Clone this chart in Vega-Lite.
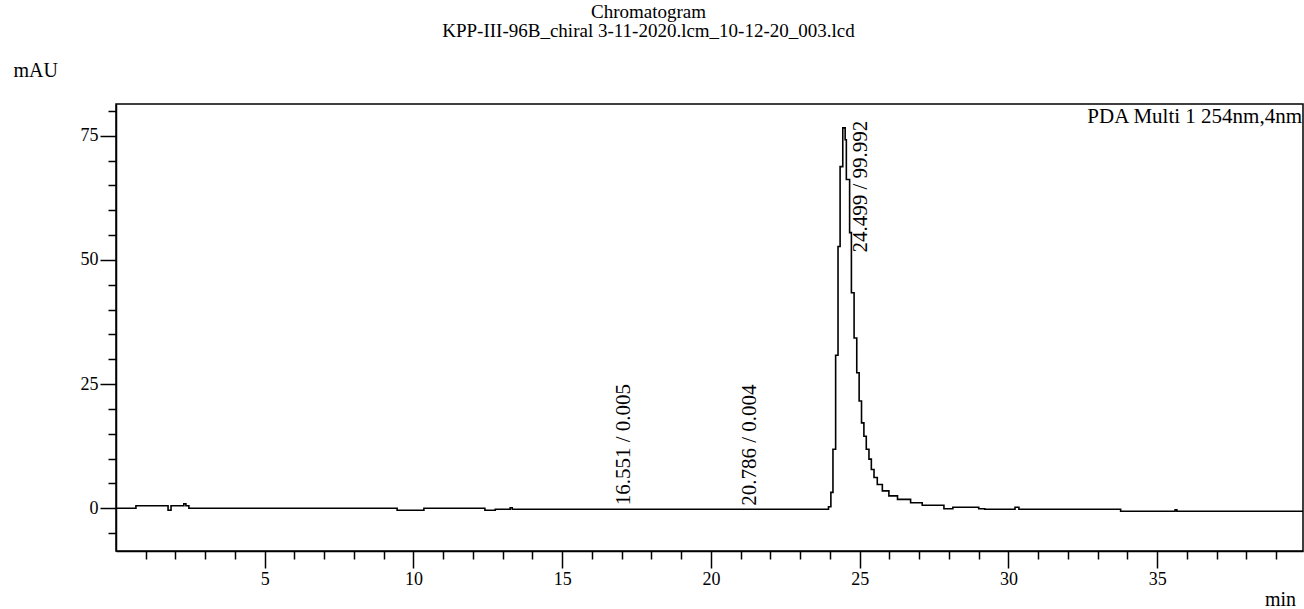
{
  "$schema": "https://vega.github.io/schema/vega-lite/v6.json",
  "autosize": "none",
  "width": 1187,
  "height": 447,
  "padding": {"left": 116, "top": 104, "right": 1, "bottom": 58},
  "background": "white",
  "config": {
    "font": "Liberation Serif",
    "view": {"stroke": "black", "strokeWidth": 1.5},
    "axis": {
      "grid": false,
      "domainColor": "black",
      "domainWidth": 1.5,
      "tickColor": "black",
      "tickWidth": 1.5,
      "labelColor": "black",
      "labelFont": "Liberation Serif",
      "labelFontSize": 18,
      "titleFont": "Liberation Serif",
      "titleFontSize": 20,
      "titleFontWeight": "normal",
      "titleColor": "black"
    }
  },
  "title": {
    "text": ["Chromatogram", "KPP-III-96B_chiral 3-11-2020.lcm_10-12-20_003.lcd"],
    "anchor": "middle",
    "frame": "group",
    "dx": -61,
    "offset": 19,
    "font": "Liberation Serif",
    "fontSize": 19,
    "fontWeight": "normal",
    "lineHeight": 19,
    "color": "black"
  },
  "datasets": {
    "trace": [
      {"t": 0, "v": 0},
      {"t": 0.67, "v": 0.5},
      {"t": 1.75, "v": -0.4},
      {"t": 1.85, "v": 0.5},
      {"t": 2.28, "v": 0.9},
      {"t": 2.35, "v": 0.5},
      {"t": 2.45, "v": 0},
      {"t": 9.45, "v": -0.4},
      {"t": 10.35, "v": 0},
      {"t": 12.4, "v": -0.4},
      {"t": 12.75, "v": -0.2},
      {"t": 13.25, "v": 0.1},
      {"t": 13.32, "v": -0.2},
      {"t": 23.95, "v": 0.3},
      {"t": 24.03, "v": 3.2},
      {"t": 24.1, "v": 11.9},
      {"t": 24.19, "v": 30.8},
      {"t": 24.27, "v": 52.7},
      {"t": 24.34, "v": 68.8},
      {"t": 24.43, "v": 76.6},
      {"t": 24.51, "v": 74.2},
      {"t": 24.55, "v": 66.2},
      {"t": 24.66, "v": 55.5},
      {"t": 24.72, "v": 43.4},
      {"t": 24.81, "v": 34.3},
      {"t": 24.9, "v": 27.3},
      {"t": 24.98, "v": 21.6},
      {"t": 25.06, "v": 17.2},
      {"t": 25.14, "v": 14.5},
      {"t": 25.22, "v": 11.9},
      {"t": 25.31, "v": 9.9},
      {"t": 25.39, "v": 7.8},
      {"t": 25.48, "v": 6.2},
      {"t": 25.59, "v": 4.8},
      {"t": 25.76, "v": 3.5},
      {"t": 25.98, "v": 2.5},
      {"t": 26.27, "v": 1.8},
      {"t": 26.71, "v": 1.1},
      {"t": 27.1, "v": 0.6},
      {"t": 27.83, "v": -0.1},
      {"t": 28.13, "v": 0.2},
      {"t": 29.0, "v": -0.1},
      {"t": 29.2, "v": -0.2},
      {"t": 30.22, "v": 0.2},
      {"t": 30.35, "v": -0.2},
      {"t": 33.77, "v": -0.6},
      {"t": 35.6, "v": -0.3},
      {"t": 35.66, "v": -0.6},
      {"t": 39.9, "v": -0.6}
    ],
    "peaks": [
      {"rt": 16.551, "ly": 0.6, "label": "16.551 / 0.005"},
      {"rt": 20.786, "ly": 0.5, "label": "20.786 / 0.004"},
      {"rt": 24.499, "ly": 51.5, "label": "24.499 / 99.992"}
    ],
    "notes": [
      {"x": 39.9, "y": 81.4, "label": "PDA Multi 1 254nm,4nm"}
    ]
  },
  "layer": [
    {
      "data": {"name": "trace"},
      "mark": {"type": "line", "interpolate": "step-after", "color": "black", "strokeWidth": 1.6, "clip": true},
      "encoding": {
        "x": {
          "field": "t", "type": "quantitative",
          "scale": {"domain": [0, 39.9], "nice": false, "zero": false},
          "axis": {
            "title": "min",
            "titleX": 1164,
            "titleY": 48,
            "titleAlign": "center",
            "titleBaseline": "middle",
            "tickCount": 200,
            "format": "d",
            "values": [1,2,3,4,5,6,7,8,9,10,11,12,13,14,15,16,17,18,19,20,21,22,23,24,25,26,27,28,29,30,31,32,33,34,35,36,37,38,39],
            "labelExpr": "datum.value % 5 === 0 ? datum.label : ''",
            "tickSize": {"condition": {"test": "datum.value % 5 === 0", "value": 17}, "value": 8},
            "labelPadding": 2,
            "labelFlush": false,
            "labelOverlap": false
          }
        },
        "y": {
          "field": "v", "type": "quantitative",
          "scale": {"domain": [-8.6, 81.4], "nice": false, "zero": false},
          "axis": {
            "title": "mAU",
            "titleAngle": 0,
            "titleAlign": "left",
            "titleBaseline": "middle",
            "titleX": -103,
            "titleY": -34,
            "tickCount": 200,
            "format": "d",
            "values": [-5,0,5,10,15,20,25,30,35,40,45,50,55,60,65,70,75,80],
            "labelExpr": "datum.value % 25 === 0 ? datum.label : ''",
            "tickSize": {"condition": {"test": "datum.value % 25 === 0", "value": 16}, "value": 8},
            "labelPadding": 2,
            "labelFlush": false,
            "labelOverlap": false
          }
        }
      }
    },
    {
      "data": {"name": "peaks"},
      "mark": {"type": "text", "angle": 270, "align": "left", "baseline": "middle", "dy": 16, "fontSize": 21, "font": "Liberation Serif", "color": "black"},
      "encoding": {
        "x": {"field": "rt", "type": "quantitative"},
        "y": {"field": "ly", "type": "quantitative"},
        "text": {"field": "label"}
      }
    },
    {
      "data": {"name": "notes"},
      "mark": {"type": "text", "align": "right", "baseline": "top", "dx": -1, "dy": 2, "fontSize": 21, "font": "Liberation Serif", "color": "black"},
      "encoding": {
        "x": {"field": "x", "type": "quantitative"},
        "y": {"field": "y", "type": "quantitative"},
        "text": {"field": "label"}
      }
    }
  ]
}
